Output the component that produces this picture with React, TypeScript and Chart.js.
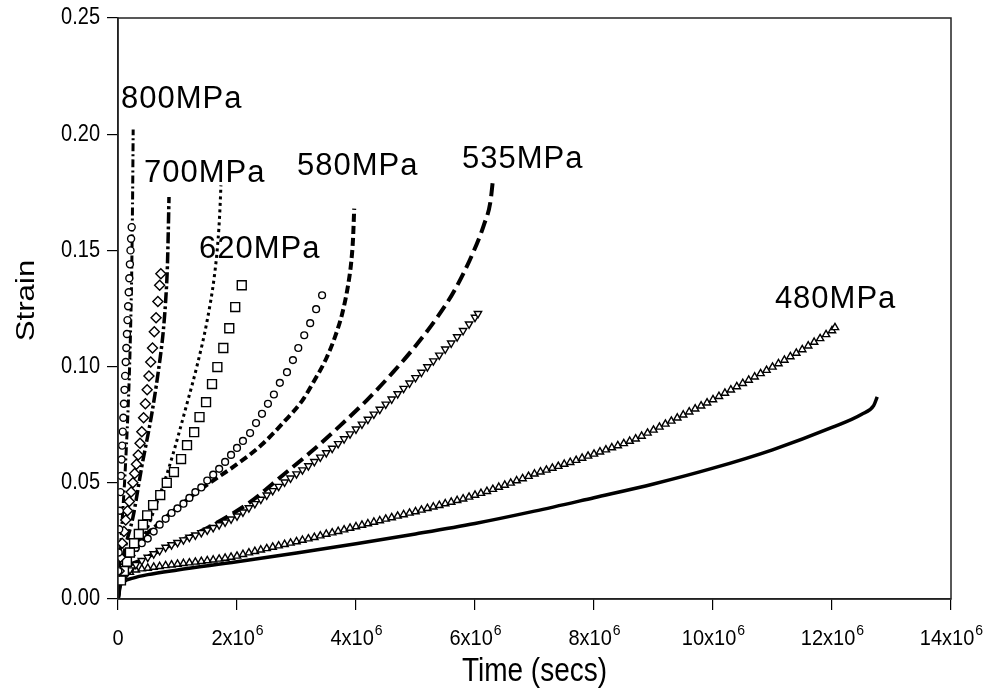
import { useEffect, useRef } from "react";
import { Chart, registerables } from "chart.js";

Chart.register(...registerables);

const FONT = 'Arial, "Liberation Sans", sans-serif';

// Time values in units of 10^6 s, strain values dimensionless
const xTickValues = [0, 2, 4, 6, 8, 10, 12, 14];
const yTickValues = [0, 0.05, 0.1, 0.15, 0.2, 0.25];

const labelNames = ["800MPa", "700MPa", "620MPa", "580MPa", "535MPa", "480MPa"];
const labelT = [0.05, 0.437, 1.361, 3.008, 5.782, 11.04];
const labelS = [0.2113, 0.1794, 0.1467, 0.1824, 0.1855, 0.1252];

// ---- 800 MPa ----
const line800T = [0, 0.02, 0.05, 0.08, 0.11, 0.14, 0.17, 0.195, 0.215, 0.23, 0.24, 0.248, 0.255];
const line800S = [0, 0.012, 0.025, 0.038, 0.05, 0.065, 0.082, 0.1, 0.12, 0.14, 0.16, 0.18, 0.202];
const exp800T = [0.005, 0.01, 0.02, 0.03, 0.04, 0.05, 0.06, 0.07, 0.08, 0.09, 0.1, 0.11, 0.12, 0.13, 0.14, 0.15, 0.16, 0.17, 0.18, 0.19, 0.2, 0.21, 0.22, 0.23];
const exp800S = [0.012, 0.02, 0.03, 0.038, 0.046, 0.053, 0.06, 0.066, 0.072, 0.078, 0.084, 0.09, 0.096, 0.102, 0.108, 0.114, 0.12, 0.126, 0.132, 0.138, 0.144, 0.15, 0.155, 0.16];

// ---- 700 MPa ----
const line700T = [0, 0.05, 0.12, 0.25, 0.4, 0.57, 0.71, 0.76, 0.8, 0.83, 0.845, 0.857];
const line700S = [0, 0.012, 0.022, 0.035, 0.057, 0.08, 0.104, 0.115, 0.128, 0.143, 0.158, 0.173];
const exp700T = [0.02, 0.04, 0.07, 0.1, 0.13, 0.16, 0.19, 0.22, 0.25, 0.28, 0.31, 0.34, 0.37, 0.4, 0.43, 0.46, 0.49, 0.52, 0.55, 0.58, 0.61, 0.64, 0.67, 0.7, 0.72];
const exp700S = [0.012, 0.018, 0.024, 0.029, 0.034, 0.038, 0.042, 0.046, 0.05, 0.054, 0.058, 0.062, 0.067, 0.072, 0.078, 0.084, 0.09, 0.096, 0.102, 0.108, 0.115, 0.121, 0.128, 0.135, 0.14];

// ---- 620 MPa ----
const line620T = [0, 0.05, 0.15, 0.37, 0.59, 0.85, 1.18, 1.33, 1.5, 1.62, 1.68, 1.71, 1.73];
const line620S = [0, 0.008, 0.014, 0.023, 0.037, 0.056, 0.086, 0.1005, 0.12, 0.139, 0.154, 0.166, 0.178];
const exp620T = [0.05, 0.1, 0.15, 0.2, 0.27, 0.35, 0.42, 0.49, 0.59, 0.71, 0.82, 0.94, 1.06, 1.16, 1.28, 1.37, 1.48, 1.58, 1.67, 1.77, 1.87, 1.97, 2.08];
const exp620S = [0.008, 0.012, 0.016, 0.02, 0.024, 0.028, 0.032, 0.036, 0.0404, 0.0447, 0.05, 0.0546, 0.0602, 0.0662, 0.0718, 0.0783, 0.0847, 0.0925, 0.0998, 0.108, 0.1165, 0.1256, 0.135];

// ---- 580 MPa ----
const line580T = [0, 0.05, 0.25, 0.71, 1.38, 2.0, 2.4, 2.8, 3.1, 3.3, 3.5, 3.65, 3.77, 3.86, 3.92, 3.95, 3.97];
const line580S = [0, 0.01, 0.021, 0.033, 0.047, 0.058, 0.066, 0.0765, 0.0855, 0.094, 0.1035, 0.113, 0.123, 0.134, 0.145, 0.155, 0.168];
const exp580T = [0.03, 0.1, 0.2, 0.3, 0.4, 0.5, 0.6, 0.7, 0.8, 0.9, 1.0, 1.1, 1.2, 1.3, 1.4, 1.5, 1.6, 1.7, 1.8, 1.9, 2.0, 2.1, 2.22, 2.32, 2.42, 2.52, 2.62, 2.72, 2.84, 2.94, 3.03, 3.13, 3.23, 3.33, 3.43];
const exp580S = [0.01, 0.016, 0.02, 0.022, 0.024, 0.026, 0.029, 0.032, 0.0345, 0.037, 0.039, 0.041, 0.0435, 0.046, 0.048, 0.051, 0.0535, 0.056, 0.059, 0.062, 0.065, 0.068, 0.0714, 0.0757, 0.0797, 0.084, 0.088, 0.093, 0.0976, 0.1028, 0.108, 0.1135, 0.1187, 0.1247, 0.1307];

// ---- 535 MPa ----
const line535T = [0, 0.05, 0.42, 0.82, 1.38, 1.83, 2.22, 2.78, 3.23, 3.73, 4.18, 4.62, 5.02, 5.36, 5.66, 5.95, 6.15, 6.26, 6.3];
const line535S = [0, 0.008, 0.017, 0.0224, 0.029, 0.0353, 0.0417, 0.0535, 0.063, 0.0745, 0.0855, 0.0975, 0.1095, 0.121, 0.133, 0.148, 0.161, 0.171, 0.18];
const exp535T = [
  0.1, 0.2, 0.3, 0.4, 0.5, 0.6, 0.7, 0.8, 0.9, 1.0,
  1.1, 1.2, 1.3, 1.4, 1.5, 1.6, 1.7, 1.8, 1.9, 2.0,
  2.1, 2.2, 2.3, 2.4, 2.5, 2.6, 2.7, 2.8, 2.9, 3.0,
  3.1, 3.2, 3.3, 3.4, 3.5, 3.6, 3.7, 3.8, 3.9, 4.0,
  4.1, 4.2, 4.3, 4.4, 4.5, 4.6, 4.7, 4.8, 4.9, 5.0,
  5.1, 5.2, 5.3, 5.4, 5.5, 5.6, 5.7, 5.8, 5.9, 6.0, 6.05,
];
const exp535S = [
  0.009, 0.0125, 0.0148, 0.0165, 0.0179, 0.0194, 0.0208, 0.0222, 0.0233, 0.0243,
  0.0254, 0.0265, 0.0275, 0.0285, 0.0296, 0.0307, 0.0319, 0.0331, 0.0344, 0.0357,
  0.0374, 0.0392, 0.041, 0.0429, 0.0447, 0.0466, 0.0484, 0.0503, 0.052, 0.0538,
  0.0555, 0.0573, 0.0591, 0.061, 0.0629, 0.0648, 0.0668, 0.0689, 0.071, 0.0731,
  0.0752, 0.0773, 0.0795, 0.0816, 0.0838, 0.086, 0.0883, 0.0906, 0.0929, 0.0952,
  0.0975, 0.0999, 0.1024, 0.1049, 0.1075, 0.1101, 0.1128, 0.1155, 0.1183, 0.1212, 0.1228,
];

// ---- 480 MPa ----
const line480T = [0, 0.03, 0.1, 0.25, 0.5, 1.0, 2.0, 3.0, 4.0, 5.0, 6.0, 7.0, 8.0, 9.0, 10.0, 11.0, 12.0, 12.5, 12.7, 12.76];
const line480S = [0, 0.005, 0.0075, 0.009, 0.0105, 0.0125, 0.016, 0.0198, 0.0238, 0.028, 0.0325, 0.0378, 0.0436, 0.0495, 0.0563, 0.0642, 0.0738, 0.0795, 0.0832, 0.087];
const exp480T = [
  0.1, 0.2, 0.3, 0.4, 0.5, 0.6, 0.7, 0.8, 0.9, 1.0,
  1.1, 1.2, 1.3, 1.4, 1.5, 1.6, 1.7, 1.8, 1.9, 2.0,
  2.1, 2.2, 2.3, 2.4, 2.5, 2.6, 2.7, 2.8, 2.9, 3.0,
  3.1, 3.2, 3.3, 3.4, 3.5, 3.6, 3.7, 3.8, 3.9, 4.0,
  4.1, 4.2, 4.3, 4.4, 4.5, 4.6, 4.7, 4.8, 4.9, 5.0,
  5.1, 5.2, 5.3, 5.4, 5.5, 5.6, 5.7, 5.8, 5.9, 6.0,
  6.1, 6.2, 6.3, 6.4, 6.5, 6.6, 6.7, 6.8, 6.9, 7.0,
  7.1, 7.2, 7.3, 7.4, 7.5, 7.6, 7.7, 7.8, 7.9, 8.0,
  8.1, 8.2, 8.3, 8.4, 8.5, 8.6, 8.7, 8.8, 8.9, 9.0,
  9.1, 9.2, 9.3, 9.4, 9.5, 9.6, 9.7, 9.8, 9.9, 10.0,
  10.1, 10.2, 10.3, 10.4, 10.5, 10.6, 10.7, 10.8, 10.9, 11.0,
  11.1, 11.2, 11.3, 11.4, 11.5, 11.6, 11.7, 11.8, 11.9, 12.0, 12.05,
];
const exp480S = [
  0.009, 0.0115, 0.0125, 0.013, 0.0133, 0.0137, 0.014, 0.0144, 0.0147, 0.015,
  0.0153, 0.0156, 0.0159, 0.0162, 0.0165, 0.0168, 0.0172, 0.0176, 0.018, 0.0185,
  0.0192, 0.0199, 0.0205, 0.0211, 0.0217, 0.0223, 0.0229, 0.0235, 0.0241, 0.0247,
  0.0253, 0.0259, 0.0265, 0.0272, 0.0279, 0.0285, 0.0291, 0.0298, 0.0305, 0.0311,
  0.0318, 0.0324, 0.0331, 0.0337, 0.0344, 0.035, 0.0357, 0.0363, 0.037, 0.0376,
  0.0383, 0.039, 0.0396, 0.0403, 0.041, 0.0417, 0.0424, 0.0431, 0.0439, 0.0447,
  0.0455, 0.0463, 0.0472, 0.0481, 0.049, 0.0499, 0.0509, 0.0518, 0.0528, 0.0538,
  0.0547, 0.0555, 0.0563, 0.0571, 0.058, 0.0588, 0.0597, 0.0606, 0.0615, 0.0624,
  0.0633, 0.0642, 0.0651, 0.066, 0.0669, 0.0679, 0.0689, 0.0701, 0.0714, 0.0727,
  0.074, 0.0753, 0.0766, 0.0779, 0.0792, 0.0805, 0.0818, 0.0831, 0.0844, 0.0858,
  0.0872, 0.0886, 0.09, 0.0914, 0.0928, 0.0942, 0.0956, 0.097, 0.0984, 0.0998,
  0.1013, 0.1028, 0.1043, 0.1058, 0.1073, 0.1089, 0.1105, 0.1121, 0.1138, 0.1155, 0.1168,
];

const MEGA = 1e6;
const pts = (t: number[], s: number[]) => t.map((v, i) => ({ x: v * MEGA, y: s[i] }));

const lineSet = (t: number[], s: number[], dash: number[], width: number) => ({
  data: pts(t, s),
  showLine: true,
  pointRadius: 0,
  borderColor: "#000",
  borderWidth: width,
  borderDash: dash,
  borderCapStyle: "butt",
  cubicInterpolationMode: "monotone",
  fill: false,
});

const markSet = (t: number[], s: number[], style: string, radius: number, rotation = 0) => ({
  data: pts(t, s),
  showLine: false,
  pointStyle: style,
  pointRadius: radius,
  pointRotation: rotation,
  pointBackgroundColor: "#fff",
  pointBorderColor: "#000",
  pointBorderWidth: 1.4,
});

const decorPlugin = {
  id: "decor",
  afterDraw(chart: any) {
    const { ctx, chartArea } = chart;
    const xs = chart.scales.x;
    const ys = chart.scales.y;
    ctx.save();
    // frame
    ctx.strokeStyle = "#222";
    ctx.lineWidth = 1.5;
    ctx.strokeRect(chartArea.left, chartArea.top, chartArea.right - chartArea.left, chartArea.bottom - chartArea.top);

    ctx.fillStyle = "#000";
    // y tick labels
    yTickValues.forEach((v) => {
      const py = ys.getPixelForValue(v);
      ctx.save();
      ctx.translate(chartArea.left - 18, py);
      ctx.scale(1, 1.15);
      ctx.font = `20px ${FONT}`;
      ctx.textAlign = "right";
      ctx.textBaseline = "middle";
      ctx.fillText(v.toFixed(2), 0, 0);
      ctx.restore();
    });

    // x tick labels with superscript exponent
    xTickValues.forEach((v) => {
      const px = xs.getPixelForValue(v * MEGA);
      ctx.save();
      ctx.translate(px, 645);
      ctx.scale(1, 1.1);
      if (v === 0) {
        ctx.font = `20px ${FONT}`;
        ctx.textAlign = "center";
        ctx.textBaseline = "alphabetic";
        ctx.fillText("0", 0, 0);
      } else {
        const base = `${v}x10`;
        ctx.font = `20px ${FONT}`;
        const w1 = ctx.measureText(base).width;
        ctx.font = `14px ${FONT}`;
        const w2 = ctx.measureText("6").width;
        const start = -(w1 + w2) / 2;
        ctx.textAlign = "left";
        ctx.textBaseline = "alphabetic";
        ctx.font = `20px ${FONT}`;
        ctx.fillText(base, start, 0);
        ctx.font = `14px ${FONT}`;
        ctx.fillText("6", start + w1 + 1, -9);
      }
      ctx.restore();
    });

    // axis titles
    ctx.save();
    ctx.translate((chartArea.left + chartArea.right) / 2, 681);
    ctx.scale(1, 1.2);
    ctx.font = `28px ${FONT}`;
    ctx.textAlign = "center";
    ctx.textBaseline = "alphabetic";
    ctx.fillText("Time (secs)", 0, 0);
    ctx.restore();

    ctx.save();
    ctx.translate(27, (chartArea.top + chartArea.bottom) / 2 - 8);
    ctx.rotate(-Math.PI / 2);
    ctx.scale(1.2, 1);
    ctx.font = `26px ${FONT}`;
    ctx.textAlign = "center";
    ctx.textBaseline = "middle";
    ctx.fillText("Strain", 0, 0);
    ctx.restore();

    // curve labels
    ctx.font = `31px ${FONT}`;
    (ctx as any).letterSpacing = "1px";
    ctx.textAlign = "left";
    ctx.textBaseline = "alphabetic";
    labelNames.forEach((name, i) => {
      ctx.fillText(name, xs.getPixelForValue(labelT[i] * MEGA), ys.getPixelForValue(labelS[i]));
    });
    (ctx as any).letterSpacing = "0px";
    ctx.restore();
  },
};

export default function App() {
  const ref = useRef<HTMLCanvasElement>(null);
  useEffect(() => {
    const canvas = ref.current;
    if (!canvas) return;
    const chart = new Chart(canvas, {
      type: "scatter",
      data: {
        datasets: [
          markSet(exp800T, exp800S, "circle", 3.5),
          markSet(exp700T, exp700S, "rectRot", 5),
          markSet(exp620T, exp620S, "rect", 6.3),
          markSet(exp580T, exp580S, "circle", 3.4),
          markSet(exp535T, exp535S, "triangle", 4.2, 180),
          markSet(exp480T, exp480S, "triangle", 4.2),
          lineSet(line800T, line800S, [8, 3, 2, 3], 3),
          lineSet(line700T, line700S, [11, 3, 3, 3], 3.5),
          lineSet(line620T, line620S, [3, 3.5], 3),
          lineSet(line580T, line580S, [8, 4], 4),
          lineSet(line535T, line535S, [13, 6], 4),
          lineSet(line480T, line480S, [], 3.5),
        ] as any,
      },
      options: {
        responsive: false,
        animation: false,
        devicePixelRatio: 1,
        layout: { padding: { top: 18, right: 43, left: 0, bottom: 0 } },
        plugins: { legend: { display: false }, tooltip: { enabled: false } },
        scales: {
          x: {
            type: "linear",
            min: 0,
            max: 14 * MEGA,
            afterBuildTicks: (scale: any) => {
              scale.ticks = xTickValues.map((v) => ({ value: v * MEGA }));
            },
            afterFit: (scale: any) => {
              scale.height = 93;
            },
            ticks: { display: false },
            grid: { display: true, drawOnChartArea: false, drawTicks: true, tickLength: 11, color: "#000", lineWidth: 1.2 },
            border: { display: true, color: "#222", width: 1.5 },
          },
          y: {
            type: "linear",
            min: 0,
            max: 0.25,
            afterBuildTicks: (scale: any) => {
              scale.ticks = yTickValues.map((v) => ({ value: v }));
            },
            afterFit: (scale: any) => {
              scale.width = 118;
            },
            ticks: { display: false },
            grid: { display: true, drawOnChartArea: false, drawTicks: true, tickLength: 11, color: "#000", lineWidth: 1.2 },
            border: { display: true, color: "#222", width: 1.5 },
          },
        },
      } as any,
      plugins: [decorPlugin],
    });
    return () => chart.destroy();
  }, []);
  return (
    <div style={{ position: "fixed", left: 0, top: 0, width: 994, height: 692, background: "#fff" }}>
      <canvas ref={ref} width={994} height={692} style={{ display: "block" }} />
    </div>
  );
}
